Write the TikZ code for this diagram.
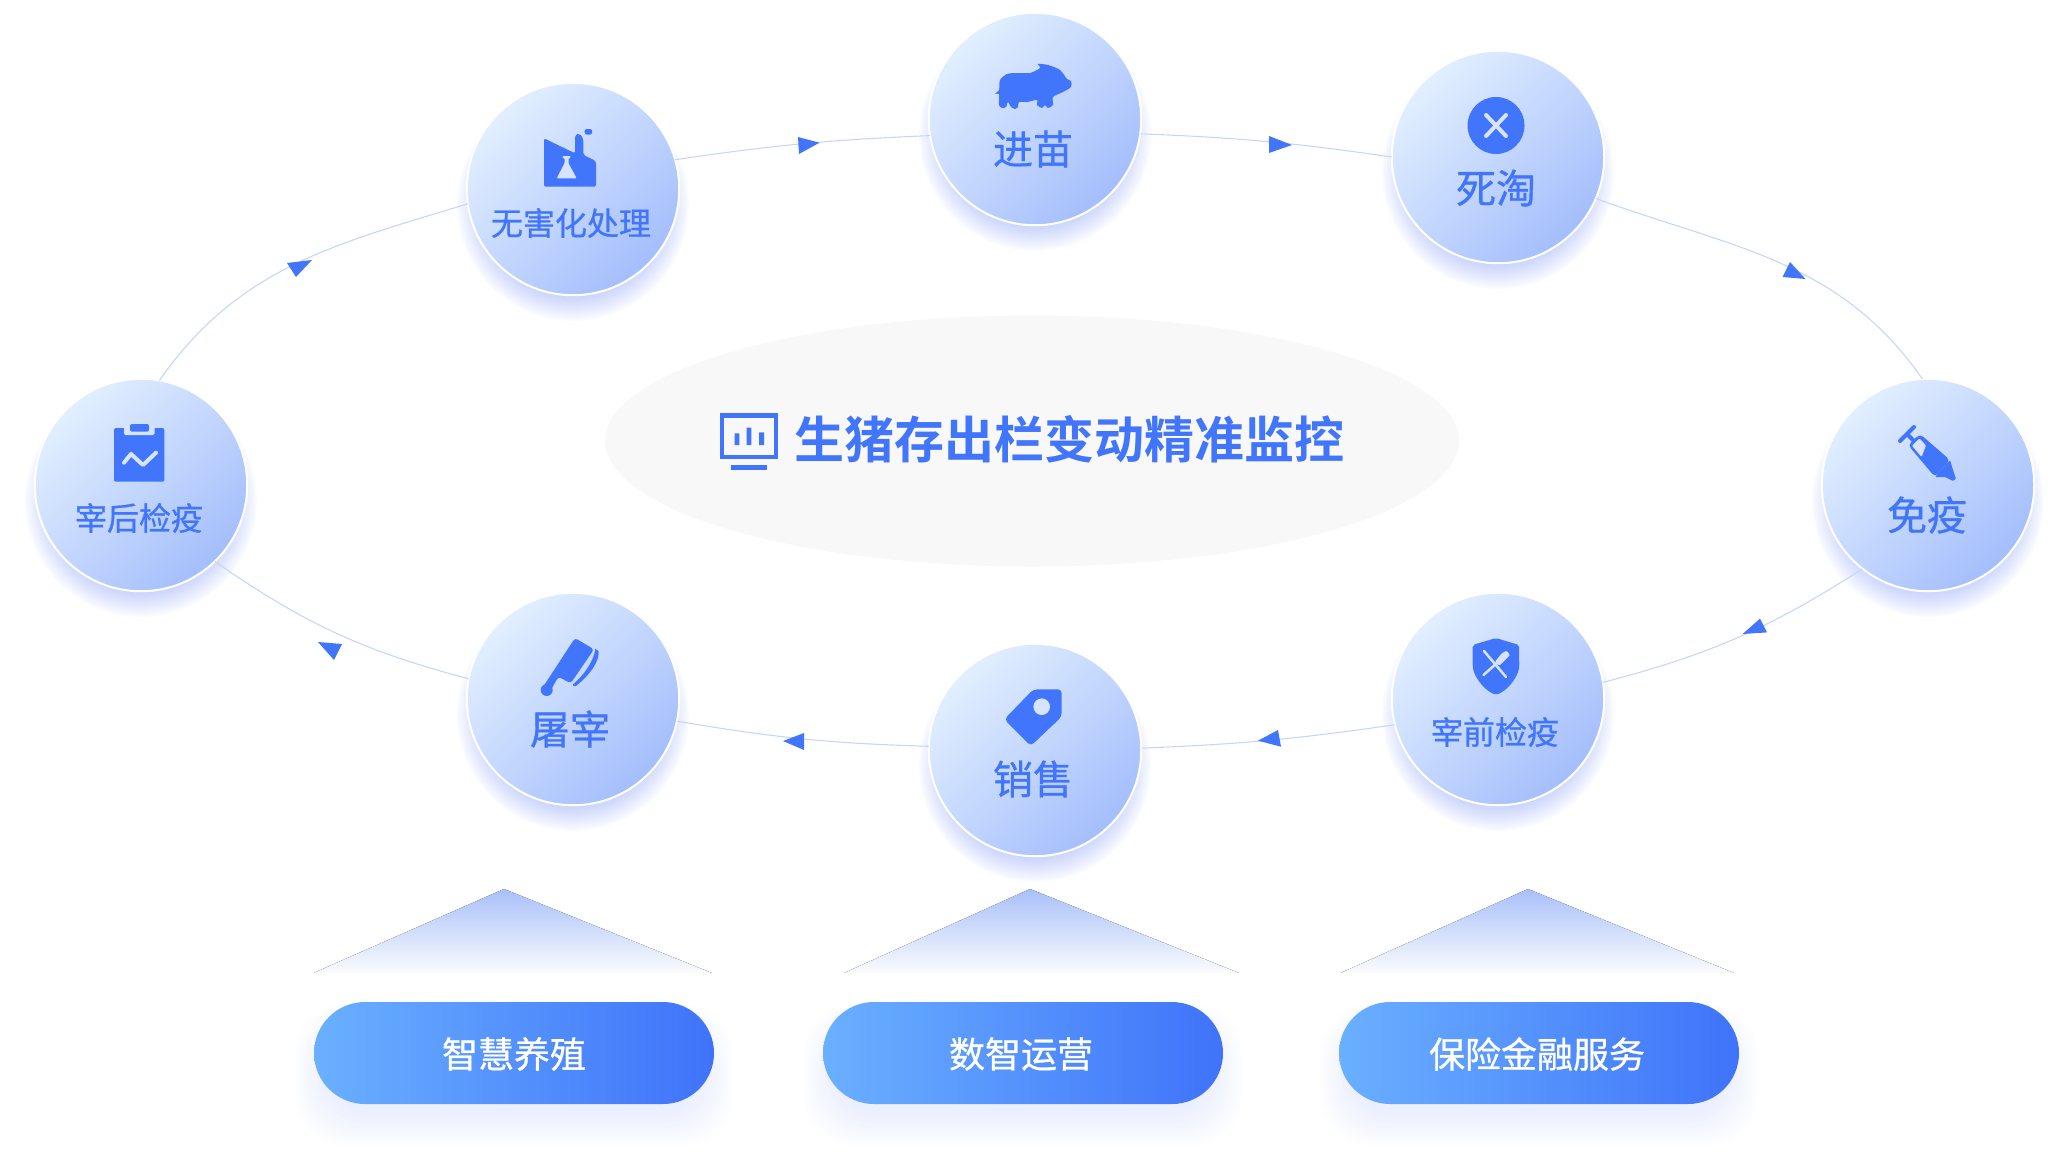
\documentclass[tikz,border=0pt]{standalone}
\usepackage{fontspec}
\newfontfamily\cjk[FakeBold=0.8]{Noto Sans CJK SC}
\newfontfamily\cjkbold{Noto Sans CJK SC Bold}
\usetikzlibrary{positioning}
\definecolor{PigBlue}{RGB}{65,117,251}
\definecolor{IconLight}{RGB}{214,228,255}
\definecolor{RingLine}{RGB}{198,214,251}
\definecolor{ShadowBlue}{RGB}{100,130,245}
\definecolor{CircleTop}{RGB}{226,239,255}
\definecolor{CircleMid}{RGB}{206,225,255}
\definecolor{CircleEnd}{RGB}{164,190,252}
\definecolor{PillLeft}{RGB}{106,176,255}
\definecolor{PillRight}{RGB}{63,115,250}
\definecolor{PeakTop}{RGB}{168,192,251}
\definecolor{PeakEnd}{RGB}{250,251,252}
\definecolor{CoreGray}{RGB}{248,248,248}

\begin{document}
\begin{tikzpicture}[x=1pt,y=-1pt,
            stage/.style={circle, draw=white, line width=2pt, inner sep=0pt, outer sep=0pt, minimum size=212.5pt,
                top color=CircleTop, middle color=CircleMid, bottom color=CircleEnd, shading angle=45},
            stagelabel/.style={text=PigBlue, font=\cjk\fontsize{40}{40}\selectfont, inner sep=0pt},
            smalllabel/.style={text=PigBlue, font=\cjk\fontsize{32}{32}\selectfont, inner sep=0pt},
            pill/.style={rounded corners=51pt, inner sep=0pt, outer sep=0pt, minimum width=400pt, minimum height=102pt,
                left color=PillLeft, right color=PillRight},
            pillname/.style={text=white, font=\cjk\fontsize{36}{36}\selectfont, inner sep=0pt},
            ringline/.style={RingLine, line width=1.1pt},
            ringtip/.style={fill=PigBlue},
            glow/.style={fill=ShadowBlue, opacity=0.03},
            pillglow/.style={fill=ShadowBlue, opacity=0.009},
            peak/.style={top color=PeakTop, bottom color=PeakEnd},
            iconfill/.style={fill=PigBlue, rounded corners=2pt},
            iconcut/.style={fill=IconLight, rounded corners=1pt},
            iconstroke/.style={draw=PigBlue, line width=4pt, line cap=round}
        ]
            \useasboundingbox (0,0) rectangle (2071,1162);

            % Centre ellipse
            \fill [CoreGray] (1032,441) ellipse [x radius=427, y radius=125.5];

            % Soft glow below the circles
            \foreach \cx/\cy in {1035/119,1498/157,1928/485,1498/699,1035/750,573/699,141/485,573/189}
                \foreach \r in {90,92,...,116}
                    \fill [glow] (\cx,\cy+16) circle [radius=\r];

            % Stages
            \node [stage] (sty) at (1035,119) {};
            \node [stage] (culled) at (1498,157) {};
            \node [stage] (vaccine) at (1928,485) {};
            \node [stage] (precheck) at (1498,699) {};
            \node [stage] (sales) at (1035,750) {};
            \node [stage] (slaughter) at (573,699) {};
            \node [stage] (postcheck) at (141,485) {};
            \node [stage] (disposal) at (573,189) {};

            \node [stagelabel] (styname) at (1033,149) {进苗};
            \node [stagelabel] (culledname) at (1496,188) {死淘};
            \node [stagelabel] (vaccinename) at (1927,515) {免疫};
            \node [smalllabel] (precheckname) at (1495,732) {宰前检疫};
            \node [stagelabel] (salesname) at (1033,779) {销售};
            \node [stagelabel] (slaughtername) at (570,729) {屠宰};
            \node [smalllabel] (postcheckname) at (139,518) {宰后检疫};
            \node [smalllabel] (disposalname) at (571,223) {无害化处理};

            % Ring
            \draw [ringline] (disposal.16) to [bend left=3] (sty.189);
            \draw [ringline] (sty.-8.5) to [bend left=3] (culled.180);
            \draw [ringline] (culled.-23) to [out=-20, in=125] (vaccine.93);
            \draw [ringline] (vaccine.232) to [bend left=9] (precheck.9.5);
            \draw [ringline] (precheck.194) to [bend left=3] (sales.1.5);
            \draw [ringline] (sales.178.6) to [bend left=4] (slaughter.-12.4);
            \draw [ringline] (slaughter.169) to [bend left=10] (postcheck.-46.5);
            \draw [ringline] (postcheck.80) to [out=55, in=197] (disposal.188.5);

            % Arrow tips of the ring
            \fill [ringtip] (819.5,142.7) -- (798,137) -- (799,154) -- cycle;
            \fill [ringtip] (1292,145) -- (1269,136) -- (1269,153) -- cycle;
            \fill [ringtip] (1805.5,279) -- (1790,262) -- (1782.5,277) -- cycle;
            \fill [ringtip] (1742.6,634) -- (1760,618.6) -- (1767,632.4) -- cycle;
            \fill [ringtip] (1258,740.7) -- (1278,730) -- (1281,746.7) -- cycle;
            \fill [ringtip] (783,741) -- (804,733) -- (804,750) -- cycle;
            \fill [ringtip] (318,642) -- (342,644) -- (334,660) -- cycle;
            \fill [ringtip] (312,260) -- (287,263) -- (296,277) -- cycle;

            % Pig
            \fill [PigBlue] plot [smooth cycle, tension=0.45] coordinates {(1038,64) (1048,65) (1060,70) (1067,79) (1071,81)
                (1071,87) (1063,92) (1053,97) (1053,105) (1048,108) (1045,105) (1042,108) (1037,105) (1037,100)
                (1027,102) (1019,102) (1018,107) (1015,109) (1011,107) (1008,102) (1006,107) (1002,108) (999,105)
                (999,94) (995,94) (999,90) (1000,80) (1007,74) (1017,73) (1030,73) (1040,68)};

            % Cross
            \fill [PigBlue] (1496,125.5) circle [radius=28.5];
            \draw [IconLight, line width=4pt, line cap=round] (1486,115) -- (1506,136) (1506,115) -- (1486,136);

            % Syringe
            \draw [iconstroke] (1900,441) -- (1914,427) (1907,434) -- (1913,440);
            \fill [iconfill, rounded corners=4pt] (1908,445) -- (1920,434) -- (1950,460) -- (1935,477) -- cycle;
            \fill [iconfill, rounded corners=1pt] (1935,477) -- (1950,460) -- (1953,470) -- (1956,479) -- (1953,481) -- (1945,477) -- cycle;
            \fill [iconcut] (1912,445.7) -- (1919.5,438.5) -- (1926,445.5) -- (1921.5,457) -- cycle;

            % Shield
            \fill [iconfill] (1496,638) -- (1519,645) -- (1519.3,667) .. controls (1517,678) and (1508,690) .. (1496,695)
                .. controls (1484,690) and (1475,678) .. (1472.7,667) -- (1472.7,645) -- cycle;
            \draw [IconLight, line width=2.5pt, line cap=round] (1484,651) -- (1506,677) (1483.5,675) -- (1497,663);
            \fill [iconcut] (1501.7,653.3) -- (1506.7,650.7) -- (1510,655) -- (1499.3,665.7) -- (1495,661.7) -- cycle;

            % Tag
            \fill [iconfill, rounded corners=4pt] (1033.3,689.3) -- (1061.7,689.3) -- (1061.7,716.7) -- (1030.7,746) -- (1004.3,719.3) -- cycle;
            \fill [IconLight] (1041.7,706.7) circle [radius=8.3];

            % Cleaver
            \fill [iconfill, rounded corners=3pt] (575,638) -- (594,649.3) -- (570.7,683.3) -- (558.3,676.7) -- (550,691.7)
                -- (543,687) -- cycle;
            \fill [PigBlue] (546.7,690) circle [radius=6];
            \fill [iconfill, rounded corners=1pt] (595.3,649.3) -- (598.7,650.7) .. controls (599,662) and (590,675) .. (575,686.7)
                -- (572.3,685) .. controls (584,675) and (593,662) .. cycle;

            % Clipboard
            \fill [iconfill] (114,428) rectangle (164.4,481.7);
            \fill [IconLight, rounded corners=1.5pt] (124,425) rectangle (154.7,435);
            \fill [iconfill] (130,424) rectangle (149,431.7);
            \draw [IconLight, line width=4pt, line cap=round, line join=round] (124,462.7) -- (131,454) -- (143,465) -- (156,452.7);

            % Factory
            \fill [iconfill] (544,138.3) -- (575,153.3) -- (575,135) -- (579.3,133.3) -- (583.3,138.3) -- (583.3,155) -- (596,161)
                -- (596,186.7) -- (544,186.7) -- cycle;
            \fill [PigBlue, rounded corners=1.5pt] (584.5,129) rectangle (592,134.5);
            \fill [iconcut] (562.3,156) -- (570.7,156) -- (570.7,158) -- (568.5,158) -- (568.5,163.3) -- (576.7,178.3) -- (556.7,178.3)
                -- (564.5,163.3) -- (564.5,158) -- (562.3,158) -- cycle;

            % Title
            \draw [PigBlue, line width=4.8pt] (722,415.5) rectangle (776,457);
            \fill [PigBlue] (731.3,465) rectangle (767,470);
            \fill [PigBlue] (734.5,433.3) rectangle (739.4,445) (746.5,427.7) rectangle (751.4,445) (759,432.3) rectangle (764,445);
            \node [text=PigBlue, font=\cjkbold\fontsize{50}{50}\selectfont, inner sep=0pt] (title) at (1069.5,439) {生猪存出栏变动精准监控};

            % Peaks
            \foreach \ax/\lx/\rx in {504/313.5/712, 1030/844/1239, 1528/1340.6/1734}
            {
                \begin{scope}
                    \clip (\ax,889) -- (\rx,973) -- (\lx,973) -- cycle;
                    \fill [peak] (\lx,889) rectangle (\rx,973);
                \end{scope}
            }

            % Soft glow below the pills
            \foreach \lx in {314,823,1339}
                \foreach \d in {-10,-8,...,20}
                    \fill [pillglow, rounded corners=51pt] (\lx-\d,1024-\d) rectangle (\lx+400+\d,1126+\d);

            % Pills
            \node [pill] (farming) at (514,1053) {};
            \node [pill] (operation) at (1023,1053) {};
            \node [pill] (finance) at (1539,1053) {};
            \node [pillname] (farmingname) at (514,1054) {智慧养殖};
            \node [pillname] (operationname) at (1021,1054) {数智运营};
            \node [pillname] (financename) at (1537,1054) {保险金融服务};
        \end{tikzpicture}
\end{document}
